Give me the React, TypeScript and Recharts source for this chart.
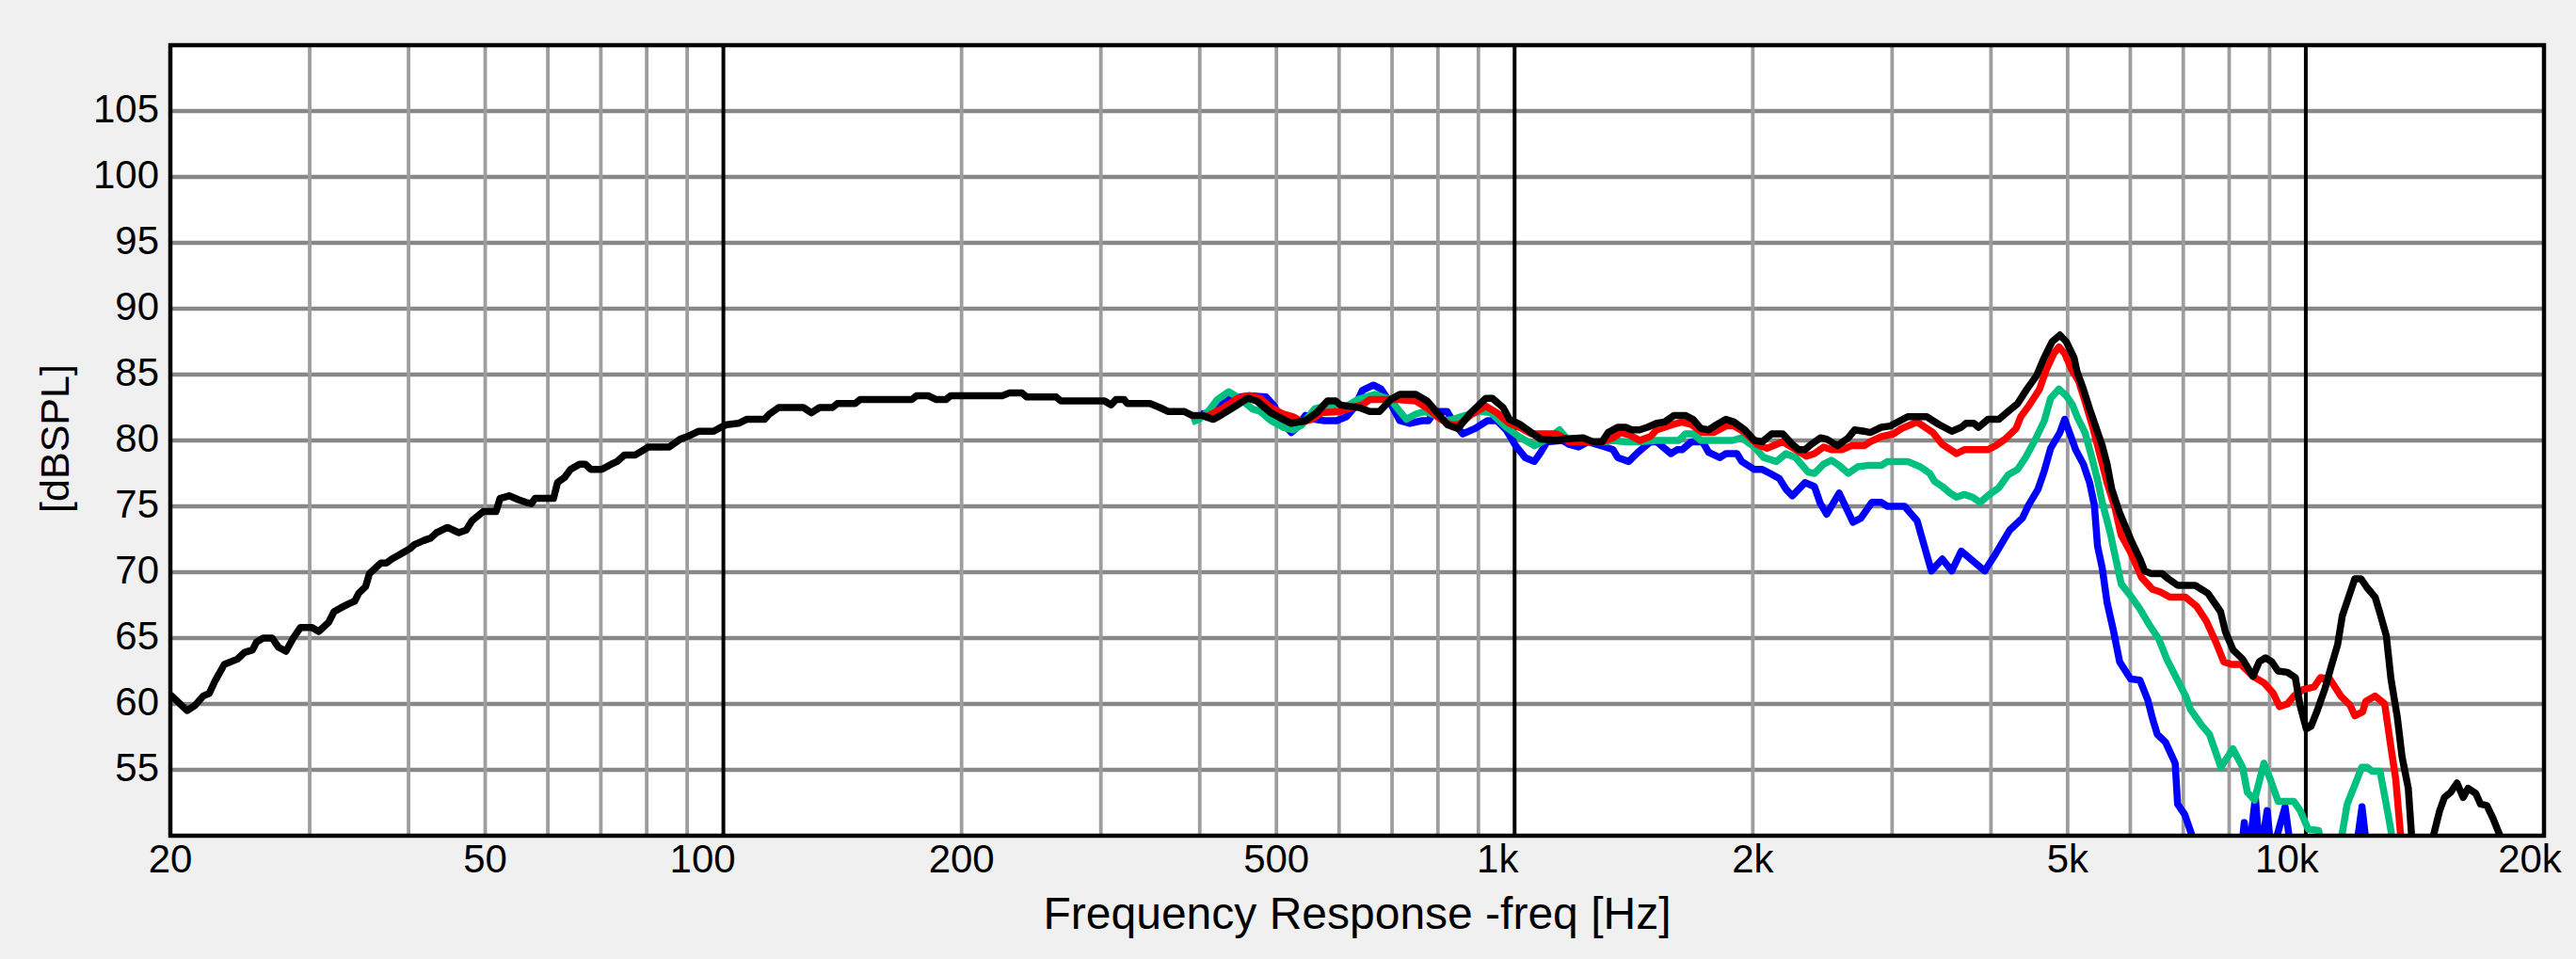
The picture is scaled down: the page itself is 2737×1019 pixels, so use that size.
import React from 'react';
import { LineChart, Line, XAxis, YAxis, CartesianGrid, ReferenceLine, ReferenceArea } from 'recharts';

const FONT = '"Liberation Sans", Arial, Helvetica, sans-serif';

// ---- tick values / labels ----
const xTicks = [20, 50, 100, 200, 500, 1000, 2000, 5000, 10000, 20000];
const xTickText: Record<number, string> = {
  20: '20', 50: '50', 100: '100', 200: '200', 500: '500',
  1000: '1k', 2000: '2k', 5000: '5k', 10000: '10k', 20000: '20k',
};
const yTicks = [55, 60, 65, 70, 75, 80, 85, 90, 95, 100, 105];
const minorFreqLines = [30, 40, 50, 60, 70, 80, 90, 200, 300, 400, 500, 600, 700, 800, 900,
  2000, 3000, 4000, 5000, 6000, 7000, 8000, 9000];
const decadeFreqLines = [100, 1000, 10000];

// ---- series: [frequency Hz, dBSPL] ----
const blackCurve: [number, number][] = [
  [20, 60.7], [21, 59.5], [21.5, 59.9], [22, 60.6], [22.4, 60.8], [22.8, 61.8], [23.4, 63.0], [24.3, 63.4],
  [24.8, 63.9], [25.4, 64.1], [25.7, 64.7], [26.2, 65.0], [26.9, 65.0], [27.4, 64.3], [28.0, 64.0], [28.6, 65.0],
  [29.2, 65.8], [30.2, 65.8], [30.8, 65.5], [31.7, 66.2], [32.2, 67.0], [33.1, 67.4], [33.6, 67.6], [34.2, 67.8],
  [34.6, 68.4], [35.3, 68.9], [35.7, 69.9], [36.9, 70.7], [37.5, 70.7], [38.1, 71.0], [38.9, 71.3], [39.4, 71.5],
  [40.2, 71.8], [40.7, 72.1], [41.8, 72.4], [42.7, 72.6], [43.4, 73.0], [44.8, 73.4], [46.3, 73.0], [47.3, 73.2],
  [48.1, 73.9], [49.7, 74.6], [51.6, 74.6], [52.2, 75.6], [53.6, 75.8], [55.1, 75.5], [56.3, 75.3], [57.2, 75.2],
  [57.8, 75.6], [61.0, 75.6], [61.7, 76.8], [63.0, 77.2], [64.1, 77.8], [65.8, 78.2], [66.9, 78.2], [68.0, 77.8],
  [70.2, 77.8], [72.2, 78.2], [73.4, 78.4], [75.0, 78.9], [77.4, 78.9], [80.4, 79.5], [85.4, 79.5], [88.2, 80.1],
  [90.1, 80.3], [93.1, 80.7], [97.2, 80.7], [99.3, 81.0], [101, 81.2], [104.5, 81.3], [107, 81.6], [112.7, 81.6],
  [114.3, 82.0], [117.5, 82.5], [126.2, 82.5], [129.2, 82.1], [132.3, 82.5], [137.4, 82.5], [139.3, 82.8],
  [146.7, 82.8], [148.8, 83.1], [173, 83.1], [175.5, 83.4], [181.4, 83.4], [185.8, 83.1], [191.1, 83.1],
  [193.8, 83.4], [225.4, 83.4], [229.6, 83.6], [238.4, 83.6], [241.8, 83.3], [263.4, 83.3], [267, 83.0],
  [303.2, 83.0], [309, 82.7], [313.4, 83.1], [321, 83.1], [323.9, 82.8], [346, 82.8], [356, 82.5], [364.6, 82.2],
  [382.2, 82.2], [391, 81.9], [403, 81.9], [416, 81.6], [425, 81.9], [441, 82.5], [460, 83.2], [472, 83.0],
  [492, 82.1], [522, 81.3], [544, 81.5], [562, 82.1], [580, 83.0], [594, 83.0], [602, 82.7], [616, 82.6],
  [636, 82.5], [656, 82.2], [675, 82.2], [697, 83.1], [716, 83.5], [750, 83.5], [775, 83.0], [804, 81.9],
  [822, 81.2], [848, 80.9], [880, 82.1], [920, 83.2], [937, 83.2], [967, 82.5], [985, 81.6], [1017, 81.2],
  [1050, 80.6], [1079, 80.1], [1130, 80.0], [1151, 80.1], [1221, 80.2], [1255, 79.9], [1290, 79.9], [1313, 80.6],
  [1350, 81.0], [1381, 81.0], [1406, 80.8], [1439, 80.8], [1472, 81.0], [1512, 81.3], [1547, 81.4], [1591, 81.9],
  [1643, 81.9], [1681, 81.6], [1720, 80.9], [1759, 80.8], [1800, 81.2], [1850, 81.6], [1893, 81.4], [1954, 80.8],
  [2009, 80.0], [2056, 79.9], [2113, 80.5], [2182, 80.5], [2244, 79.7], [2286, 79.3], [2328, 79.3], [2371, 79.7],
  [2435, 80.2], [2480, 80.1], [2560, 79.6], [2641, 80.2], [2690, 80.8], [2765, 80.7], [2815, 80.6], [2907, 81.0],
  [2987, 81.1], [3028, 81.3], [3140, 81.8], [3317, 81.8], [3441, 81.2], [3569, 80.7], [3669, 81.0], [3719, 81.3],
  [3806, 81.3], [3859, 81.0], [3964, 81.6], [4092, 81.6], [4206, 82.2], [4323, 82.8], [4442, 83.9], [4566, 84.9],
  [4672, 86.3], [4780, 87.5], [4889, 88.0], [4979, 87.5], [5093, 86.3], [5140, 85.2], [5234, 83.9], [5330, 82.4],
  [5429, 81.0], [5530, 79.6], [5608, 78.2], [5685, 76.3], [5817, 74.5], [6006, 72.5], [6171, 71.0], [6256, 70.1],
  [6371, 69.9], [6580, 69.9], [6702, 69.5], [6889, 69.0], [7247, 69.0], [7519, 68.4], [7804, 67.0], [7911, 65.5],
  [8093, 64.1], [8320, 63.4], [8574, 62.1], [8732, 63.2], [8893, 63.5], [9056, 63.2], [9223, 62.5], [9480, 62.4],
  [9699, 62.0], [9833, 59.9], [10014, 58.1], [10152, 58.3], [10339, 59.5], [10577, 61.2], [10772, 62.9],
  [10970, 64.5], [11121, 66.7], [11325, 68.1], [11532, 69.5], [11744, 69.5], [11960, 68.8], [12236, 68.1],
  [12406, 66.9], [12637, 65.2], [12812, 61.9], [13051, 59.0], [13231, 56.0], [13474, 53.6], [13598, 50.2],
  [13800, 46], [14300, 46], [14496, 50], [14762, 51.9], [14967, 52.9], [15244, 53.3], [15526, 54.0], [15813, 52.9],
  [16033, 53.6], [16403, 53.2], [16628, 52.4], [16935, 52.3], [17248, 51.3], [17569, 50.1], [17900, 46],
];

const redCurve: [number, number][] = [
  [405, 81.7], [429, 82.5], [447, 83.2], [462, 83.4], [477, 83.2], [492, 82.5], [510, 82.0], [525, 81.8],
  [539, 81.4], [554, 81.6], [570, 82.1], [602, 82.2], [624, 82.5], [642, 82.7], [656, 83.1], [710, 83.1],
  [750, 83.0], [778, 82.4], [807, 81.6], [829, 81.2], [851, 81.2], [883, 82.0], [920, 82.6], [950, 82.1],
  [985, 81.3], [1022, 80.9], [1050, 80.5], [1089, 80.5], [1129, 80.5], [1161, 80.1], [1172, 79.9], [1290, 79.9],
  [1332, 80.2], [1362, 80.6], [1400, 80.4], [1439, 80.0], [1485, 80.3], [1512, 80.8], [1583, 81.2], [1628, 81.4],
  [1673, 81.2], [1728, 80.6], [1783, 80.6], [1850, 81.1], [1893, 81.1], [1954, 80.6], [2027, 79.7], [2084, 79.4],
  [2142, 79.7], [2182, 79.9], [2266, 79.3], [2339, 78.8], [2393, 79.0], [2458, 79.5], [2514, 79.3], [2593, 79.3],
  [2665, 79.6], [2765, 79.6], [2815, 79.9], [2907, 80.3], [3014, 80.5], [3083, 80.9], [3227, 81.4], [3378, 80.6],
  [3472, 79.7], [3619, 79.0], [3702, 79.3], [3964, 79.3], [4055, 79.6], [4168, 80.1], [4303, 80.9], [4362, 81.8],
  [4463, 82.6], [4608, 83.9], [4694, 85.3], [4802, 86.6], [4876, 87.1], [4957, 86.6], [5048, 85.5], [5163, 84.5],
  [5258, 83.0], [5380, 81.0], [5505, 78.7], [5608, 76.8], [5738, 74.9], [5844, 72.8], [6006, 71.5], [6200, 69.6],
  [6400, 68.7], [6551, 68.5], [6733, 68.1], [7049, 68.1], [7280, 67.4], [7484, 66.3], [7696, 64.7], [7875, 63.2],
  [8056, 63.0], [8282, 63.0], [8574, 62.1], [8853, 61.6], [9098, 60.8], [9266, 59.8], [9479, 60.0], [9660, 60.6],
  [9922, 61.1], [10245, 61.3], [10434, 62.0], [10723, 61.9], [11070, 60.6], [11377, 59.9], [11532, 59.1],
  [11797, 59.4], [11905, 60.2], [12236, 60.6], [12579, 60.0], [12812, 56.7], [12991, 54.3], [13170, 50.2],
  [13400, 45],
];

const greenCurve: [number, number][] = [
  [391, 81.4], [399, 81.6], [410, 82.2], [421, 83.1], [435, 83.7], [449, 83.2], [466, 82.4], [477, 82.2],
  [492, 81.5], [510, 81.0], [525, 80.8], [539, 81.2], [559, 82.4], [575, 82.6], [596, 82.5], [613, 82.6],
  [633, 83.1], [666, 83.5], [697, 83.1], [716, 82.2], [730, 81.6], [750, 82.0], [771, 82.2], [793, 81.9],
  [814, 81.5], [836, 81.6], [867, 81.9], [907, 82.2], [933, 82.1], [976, 81.0], [1012, 80.3], [1059, 79.6],
  [1099, 80.1], [1140, 80.8], [1166, 80.1], [1227, 79.9], [1302, 79.9], [1332, 80.0], [1381, 79.9], [1432, 79.9],
  [1512, 80.0], [1613, 80.0], [1643, 80.5], [1681, 80.5], [1720, 80.0], [1884, 80.0], [1937, 80.2], [2009, 79.5],
  [2065, 78.7], [2142, 78.4], [2203, 79.0], [2266, 78.7], [2349, 77.6], [2393, 77.5], [2458, 78.2], [2514, 78.5],
  [2572, 78.1], [2641, 77.5], [2714, 78.0], [2789, 78.1], [2907, 78.1], [2960, 78.4], [3140, 78.4], [3257, 78.0],
  [3347, 77.5], [3394, 76.9], [3472, 76.5], [3553, 76.0], [3619, 75.7], [3702, 75.9], [3788, 75.7], [3876, 75.3],
  [3982, 75.9], [4092, 76.4], [4206, 77.4], [4323, 77.8], [4422, 78.7], [4545, 80.0], [4672, 81.5], [4758, 83.2],
  [4876, 83.9], [4979, 83.4], [5070, 82.7], [5140, 81.8], [5258, 80.6], [5355, 78.9], [5454, 77.0], [5530, 75.3],
  [5659, 73.0], [5738, 71.3], [5844, 69.1], [6006, 68.2], [6171, 67.2], [6342, 66.0], [6521, 64.9], [6673, 63.4],
  [6857, 62.0], [7049, 60.6], [7147, 59.6], [7381, 58.4], [7554, 57.7], [7810, 55.2], [8087, 56.6], [8318, 55.2],
  [8435, 53.3], [8612, 52.7], [8852, 55.5], [9015, 54.3], [9225, 52.6], [9660, 52.6], [9840, 51.9], [10070, 50.5],
  [10380, 50.4], [10540, 48], [10960, 48], [11280, 52.4], [11610, 54.3], [11770, 55.2], [11950, 55.2],
  [12120, 54.9], [12410, 54.9], [12590, 52.9], [12820, 50.3], [13000, 46],
];

const blueCurve: [number, number][] = [
  [402, 82.0], [410, 82.1], [421, 82.7], [437, 83.2], [462, 83.4], [485, 83.3], [497, 82.6], [510, 81.3],
  [522, 80.6], [529, 80.9], [544, 81.9], [559, 81.6], [575, 81.5], [596, 81.5], [613, 81.8], [627, 82.5],
  [642, 83.8], [663, 84.2], [678, 83.9], [697, 82.8], [716, 81.5], [737, 81.3], [764, 81.5], [778, 81.5],
  [793, 82.2], [822, 82.2], [836, 81.4], [860, 80.5], [891, 80.9], [924, 81.5], [950, 81.5], [976, 80.8],
  [1003, 79.6], [1031, 78.7], [1059, 78.4], [1079, 79.1], [1099, 79.9], [1150, 80.0], [1172, 79.7], [1204, 79.5],
  [1238, 79.9], [1302, 79.5], [1332, 79.3], [1350, 78.7], [1394, 78.4], [1432, 79.1], [1485, 79.9], [1512, 79.9],
  [1547, 79.4], [1576, 79.0], [1605, 79.3], [1628, 79.3], [1673, 79.9], [1728, 79.9], [1759, 79.1], [1816, 78.7],
  [1850, 79.0], [1910, 79.0], [1937, 78.4], [2009, 77.8], [2056, 77.8], [2103, 77.5], [2161, 77.1], [2203, 76.3],
  [2244, 75.8], [2328, 76.8], [2393, 76.5], [2435, 75.2], [2480, 74.4], [2572, 76.0], [2677, 73.8], [2739, 74.1],
  [2828, 75.3], [2907, 75.3], [2960, 75.0], [3111, 75.0], [3227, 73.9], [3287, 72.2], [3363, 70.1], [3472, 71.0],
  [3569, 70.1], [3669, 71.6], [3928, 70.1], [4055, 71.4], [4225, 73.2], [4383, 74.1], [4463, 75.1], [4587, 76.3],
  [4672, 77.7], [4758, 79.4], [4889, 80.6], [4957, 81.6], [5048, 80.3], [5117, 79.3], [5234, 78.2], [5330, 76.8],
  [5404, 75.1], [5454, 72.0], [5530, 70.3], [5608, 67.7], [5711, 65.6], [5817, 63.2], [6006, 61.9], [6171, 61.8],
  [6314, 60.3], [6400, 58.9], [6490, 57.7], [6648, 57.1], [6837, 55.5], [6886, 52.4], [7032, 51.6], [7181, 50.0],
  [7300, 46], [8200, 46], [8360, 51.0], [8470, 48.5], [8634, 52.9], [8752, 48.5], [8937, 51.9], [9050, 48.5],
  [9415, 52.2], [9720, 46], [11400, 46], [11776, 52.2], [12100, 46],
];

const toRows = (pts: [number, number][]) => pts.map(([f, v]) => ({ f, v }));

const xLabelShift: Record<number, number> = { 100: -22, 1000: -18, 10000: -20, 20000: -15 };

const XTick = (props: any) => {
  const { x, y, payload } = props;
  const v = payload.value as number;
  return (
    <text x={x + (xLabelShift[v] ?? 0)} y={y} dy={39} textAnchor="middle" fontSize={42}
      fontFamily={FONT} fill="#000">{xTickText[v] ?? String(v)}</text>
  );
};

const YTick = (props: any) => {
  const { x, y, payload } = props;
  return (
    <text x={x - 12} y={y} dy={11.5} textAnchor="end" fontSize={42} fontFamily={FONT} fill="#000">
      {payload.value}
    </text>
  );
};

const XTitle = (props: any) => {
  const vb = props.viewBox || { x: 181, y: 888, width: 2522, height: 131 };
  return (
    <text x={vb.x + vb.width / 2} y={vb.y + 99} textAnchor="middle" fontSize={48} fontFamily={FONT} fill="#000">
      Frequency Response -freq [Hz]
    </text>
  );
};

const YTitle = (props: any) => {
  const vb = props.viewBox || { x: 0, y: 48, width: 181, height: 840 };
  const cx = vb.x + 73;
  const cy = vb.y + vb.height / 2 - 2;
  return (
    <text transform={`translate(${cx}, ${cy}) rotate(-90)`} x={0} y={0} textAnchor="middle" fontSize={43}
      fontFamily={FONT} fill="#000">[dBSPL]</text>
  );
};

const CURVE_W = 7.5;

export default function App() {
  return (
    <div style={{ position: 'absolute', left: 0, top: 0, width: 2737, height: 1019, background: '#f0f0f0' }}>
      <LineChart width={2737} height={1019} margin={{ top: 48, right: 34, bottom: 0, left: 0 }}>
        <CartesianGrid fill="#ffffff" horizontal={false} vertical={false} />
        <XAxis
          dataKey="f" type="number" scale="log" domain={[20, 20000]} allowDataOverflow
          ticks={xTicks} interval={0} height={131} axisLine={false} tickLine={false}
          tickSize={0} tickMargin={0} tick={<XTick />} label={<XTitle />}
        />
        <YAxis
          type="number" domain={[50, 110]} allowDataOverflow ticks={yTicks} interval={0} width={181}
          axisLine={false} tickLine={false} tickSize={0} tickMargin={0} tick={<YTick />} label={<YTitle />}
        />
        {yTicks.map((v) => (
          <ReferenceLine key={`h${v}`} y={v} stroke="#878787" strokeWidth={4.5} zIndex={-50} />
        ))}
        {minorFreqLines.map((f) => (
          <ReferenceLine key={`v${f}`} x={f} stroke="#9d9d9d" strokeWidth={3.8} zIndex={-50} />
        ))}
        {decadeFreqLines.map((f) => (
          <ReferenceLine key={`d${f}`} x={f} stroke="#000000" strokeWidth={4} zIndex={-40} />
        ))}
        <Line data={toRows(blueCurve)} dataKey="v" type="linear" stroke="#0000ff" strokeWidth={CURVE_W}
          dot={false} activeDot={false} isAnimationActive={false} strokeLinejoin="round" />
        <Line data={toRows(greenCurve)} dataKey="v" type="linear" stroke="#00c080" strokeWidth={CURVE_W}
          dot={false} activeDot={false} isAnimationActive={false} strokeLinejoin="round" />
        <Line data={toRows(redCurve)} dataKey="v" type="linear" stroke="#ff0000" strokeWidth={CURVE_W}
          dot={false} activeDot={false} isAnimationActive={false} strokeLinejoin="round" />
        <Line data={toRows(blackCurve)} dataKey="v" type="linear" stroke="#000000" strokeWidth={CURVE_W}
          dot={false} activeDot={false} isAnimationActive={false} strokeLinejoin="round" />
        <ReferenceArea x1={20} x2={20000} y1={50} y2={110} fill="none" fillOpacity={0} stroke="#000000"
          strokeWidth={4.5} zIndex={1500} />
      </LineChart>
    </div>
  );
}
